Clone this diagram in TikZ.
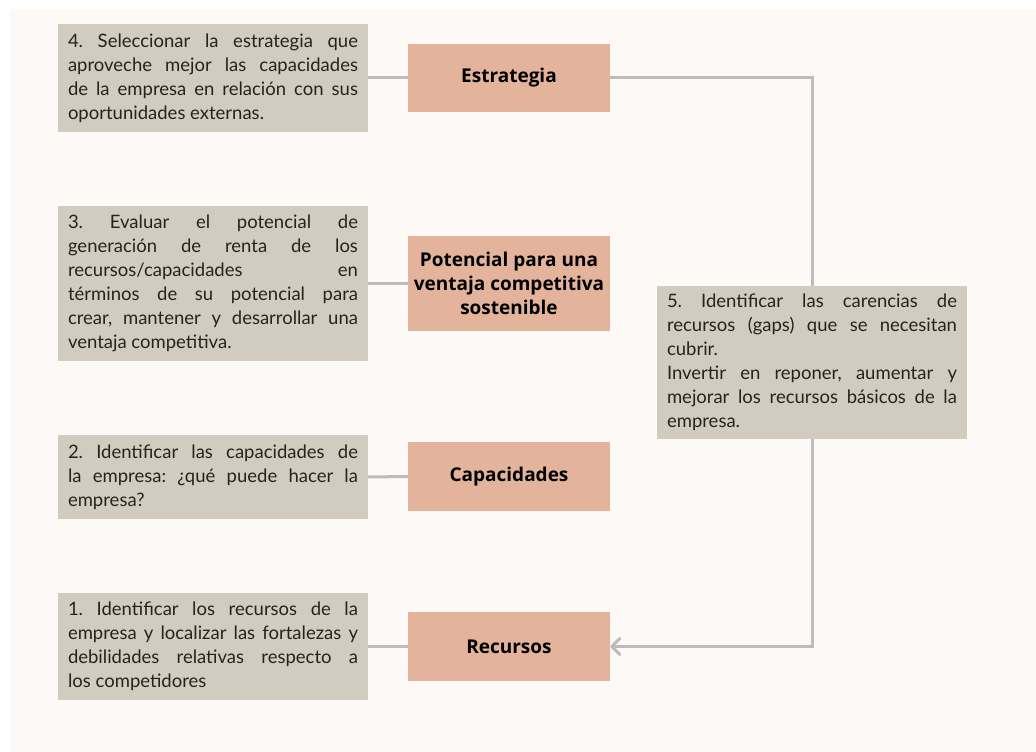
\documentclass[tikz,border=0pt]{standalone}
\usepackage{fontspec}
\setmainfont{Lato}
\newfontfamily\labelfont{Open Sans}
\usetikzlibrary{arrows.meta}
\frenchspacing

\definecolor{pagebg}{HTML}{FDF9F6}
\definecolor{notefill}{HTML}{D1CCBF}
\definecolor{stagefill}{HTML}{E3B39C}
\definecolor{linkgray}{HTML}{BDBCBA}
\definecolor{ink}{HTML}{26221F}

% width of the text block inside a note
\newlength\notetext
\setlength\notetext{290pt}
% one justified line of a note, stretched to the full text width
\newcommand\jrow[1]{\hbox to\notetext{#1}}
% closing line of a paragraph, set at its natural width
\newcommand\lrow[1]{\hbox to\notetext{#1\hfil}}
% stack of rows
\newcommand\rows[1]{\vbox{\hsize=\notetext #1}}

\begin{document}
\begin{tikzpicture}[x=1pt,y=-1pt,
  note/.style={fill=notefill, minimum width=310pt,
    inner sep=0pt, font=\fontsize{18.5}{24}\selectfont\frenchspacing, text=ink},
  stage/.style={fill=stagefill, minimum width=202pt, align=center,
    inner sep=0pt, font=\labelfont\bfseries\fontsize{19}{24}\selectfont, text=black},
  link/.style={draw=linkgray, line width=3pt}]

% page
\useasboundingbox (0,0) rectangle (1036,752);
\fill[white] (0,0) rectangle (1036,752);
\fill[pagebg] (10,9) rectangle (1036,752);

% left column: steps
\node[note, minimum height=108pt] (n4) at (213,78) {\rows{%
  \jrow{4. Seleccionar la estrategia que}%
  \jrow{aproveche mejor las capacidades}%
  \jrow{de la empresa en relación con sus}%
  \lrow{oportunidades externas.}}};

\node[note, minimum height=155pt] (n3) at (213,283.5) {\rows{%
  \jrow{3. Evaluar el potencial de}%
  \jrow{generación de renta de los}%
  \jrow{recursos/capacidades en}%
  \jrow{términos de su potencial para}%
  \jrow{crear, mantener y desarrollar una}%
  \lrow{ventaja competitiva.}}};

\node[note, minimum height=84pt] (n2) at (213,477) {\rows{%
  \jrow{2. Identificar las capacidades de}%
  \jrow{la empresa: ¿qué puede hacer la}%
  \lrow{empresa?}}};

\node[note, minimum height=107pt] (n1) at (213,646.5) {\rows{%
  \jrow{1. Identificar los recursos de la}%
  \jrow{empresa y localizar las fortalezas y}%
  \jrow{debilidades relativas respecto a}%
  \lrow{los competidores}}};

% middle column: stages
\node[stage, minimum height=68pt] (estr) at (509,78) {Estrategia};
\node[stage, minimum height=95pt] (pot) at (509,283.5) {Potencial para una\\ventaja competitiva\\sostenible};
\node[stage, minimum height=69pt] (cap) at (509,476.5) {Capacidades};
\node[stage, minimum height=69pt] (rec) at (509,646.5) {Recursos};

% right: gaps
\node[note, minimum height=153pt] (n5) at (812,362.5) {\rows{%
  \jrow{5. Identificar las carencias de}%
  \jrow{recursos (gaps) que se necesitan}%
  \lrow{cubrir.}%
  \jrow{Invertir en reponer, aumentar y}%
  \jrow{mejorar los recursos básicos de la}%
  \lrow{empresa.}}};

% connectors
\draw[link] (n4.east) -- (estr.west);
\draw[link] (n3.east) -- (pot.west);
\draw[link] (n2.east) -- (cap.west);
\draw[link] (n1.east) -- (rec.west);
\draw[link] (estr.east) -| (n5.north);
\draw[link, -{Straight Barb[length=8pt, width=16pt, round]}] (n5.south) |- (rec.east);
\end{tikzpicture}
\end{document}
